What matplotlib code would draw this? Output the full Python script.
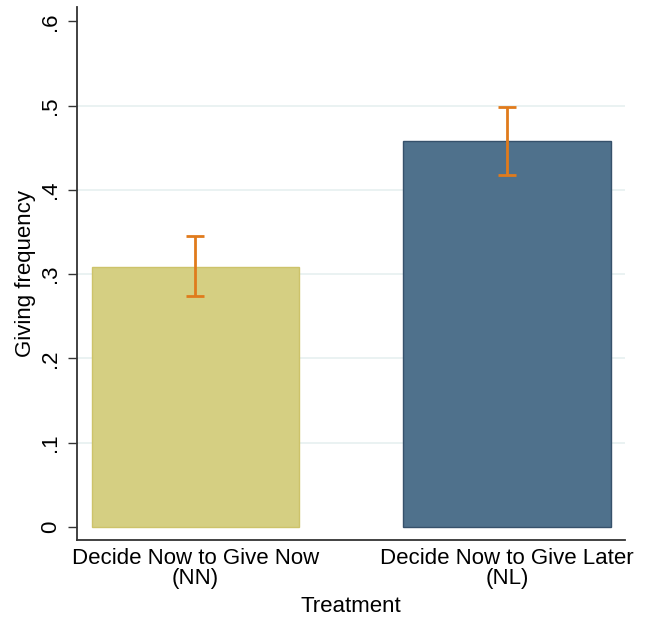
import matplotlib

matplotlib.use("Agg")
import matplotlib.pyplot as plt

# data
treatments = ["Decide Now to Give Now\n(NN)", "Decide Now to Give Later\n(NL)"]
giving_freq = [0.308, 0.458]
ci_low = [0.274, 0.4175]
ci_high = [0.345, 0.498]
yticks = [0, 0.1, 0.2, 0.3, 0.4, 0.5, 0.6]
ytick_labels = ["0", ".1", ".2", ".3", ".4", ".5", ".6"]

plt.rcParams["font.family"] = ["Liberation Sans", "DejaVu Sans"]

fig = plt.figure(figsize=(6.48, 6.18), dpi=100)
ax = fig.add_axes([0.1188, 0.1262, 0.8457, 0.8625])

fills = ["#d5cf82", "#4f718c"]
edges = ["#cdc36a", "#36516b"]
xs = list(range(len(treatments)))
ax.bar(xs, giving_freq, width=0.666, color=fills, edgecolor=edges, linewidth=1.0, zorder=2)

lower = [g - lo for g, lo in zip(giving_freq, ci_low)]
upper = [hi - g for g, hi in zip(giving_freq, ci_high)]
ax.errorbar(xs, giving_freq, yerr=[lower, upper], fmt="none", ecolor="#e07b1c",
            elinewidth=2.0, capsize=6.5, capthick=2.0, zorder=3)

ax.set_xlim(-0.38, 1.379)
ax.set_ylim(-0.0154, 0.617)
ax.set_yticks(yticks)
ax.set_yticklabels(ytick_labels, rotation=90, va="center", fontsize=16)
ax.set_xticks(xs)
ax.set_xticklabels(treatments, fontsize=16, linespacing=0.92)
ax.tick_params(axis="x", length=0, pad=6)
ax.tick_params(axis="y", length=6.5, width=1.0, color="#333333", pad=5)

for y in yticks[1:-1]:
    ax.axhline(y, color="#eaf2f2", linewidth=1.4, zorder=1)

for side in ["top", "right"]:
    ax.spines[side].set_visible(False)
for side in ["left", "bottom"]:
    ax.spines[side].set_color("#333333")
    ax.spines[side].set_linewidth(1.3)

ax.set_ylabel("Giving frequency", fontsize=16, labelpad=3)
ax.set_xlabel("Treatment", fontsize=16, labelpad=5)

fig.savefig("out.png", dpi=100)
